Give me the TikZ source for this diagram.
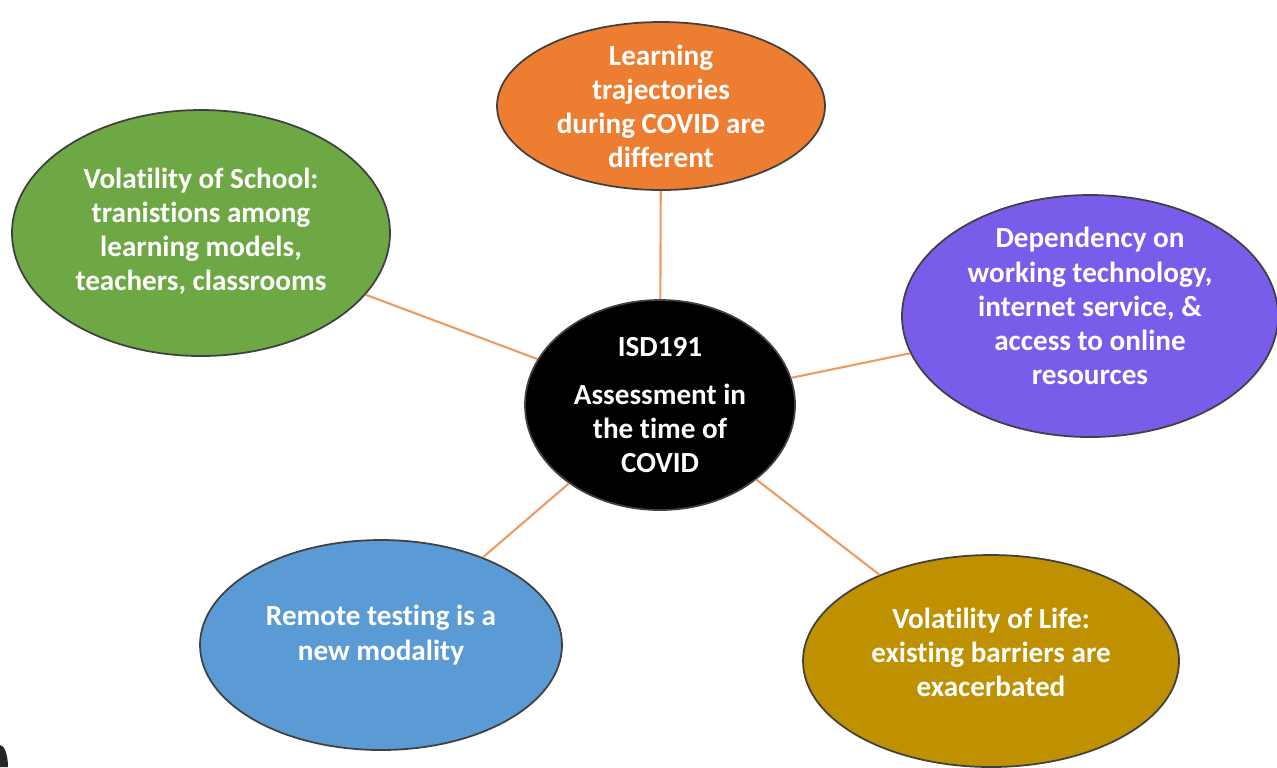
\documentclass[tikz,border=0pt]{standalone}
\usepackage{fontspec}
\setmainfont[Ligatures=NoCommon]{Carlito}
\usetikzlibrary{shapes.geometric}

\definecolor{trajorange}{HTML}{ED7D31}
\definecolor{schoolgreen}{HTML}{6DA844}
\definecolor{techpurple}{HTML}{7A5CEA}
\definecolor{remoteblue}{HTML}{5B9BD5}
\definecolor{lifegold}{HTML}{BF9000}
\definecolor{spokeorange}{HTML}{EE9A60}

\tikzset{
  bubble/.style={ellipse, draw=black!75, line width=0.5pt, inner sep=0pt},
  idea/.style={text=white, align=center, inner sep=0pt,
    font=\fontsize{8.3}{9.7}\selectfont\bfseries},
  spoke/.style={draw=spokeorange, line width=0.6pt}
}

\begin{document}
\begin{tikzpicture}
        \useasboundingbox (0, 0) rectangle (12.77, -7.67);

        % hub
        \node[bubble, fill=black, minimum width=2.7cm, minimum height=2.1cm,
            label={[idea]center:ISD191\\[4pt]Assessment in\\the time of\\COVID}] (hub) at (6.6, -4.05) {};

        % outer ideas
        \node[bubble, fill=trajorange, minimum width=3.28cm, minimum height=1.68cm,
            label={[idea]center:Learning\\trajectories\\during COVID are\\different}] (traj) at (6.61, -1.06) {};
        \node[bubble, fill=schoolgreen, minimum width=3.78cm, minimum height=2.46cm,
            label={[idea, yshift=0.02cm]center:Volatility of School:\\tranistions among\\learning models,\\teachers, classrooms}] (school) at (2.01, -2.33) {};
        \node[bubble, fill=techpurple, minimum width=3.76cm, minimum height=2.42cm,
            label={[idea, yshift=0.1cm]center:Dependency on\\working technology,\\internet service, \&\\access to online\\resources}] (tech) at (10.9, -3.16) {};
        \node[bubble, fill=remoteblue, minimum width=3.62cm, minimum height=2.1cm,
            label={[idea, yshift=0.1cm]center:Remote testing is a\\new modality}] (remote) at (3.81, -6.45) {};
        \node[bubble, fill=lifegold, minimum width=3.76cm, minimum height=2.12cm,
            label={[idea, yshift=0.09cm]center:Volatility of Life:\\existing barriers are\\exacerbated}] (life) at (9.91, -6.61) {};

        % spokes
        \draw[spoke] (hub) -- (traj);
        \draw[spoke] (hub) -- (school);
        \draw[spoke] (hub) -- (tech);
        \draw[spoke] (hub) -- (remote);
        \draw[spoke] (hub) -- (life);

        % cut-off shape in the corner
        \fill[black!85] (0, -7.67) -- (0, -7.45) arc (90:0:0.08 and 0.22) -- cycle;
    \end{tikzpicture}
\end{document}
